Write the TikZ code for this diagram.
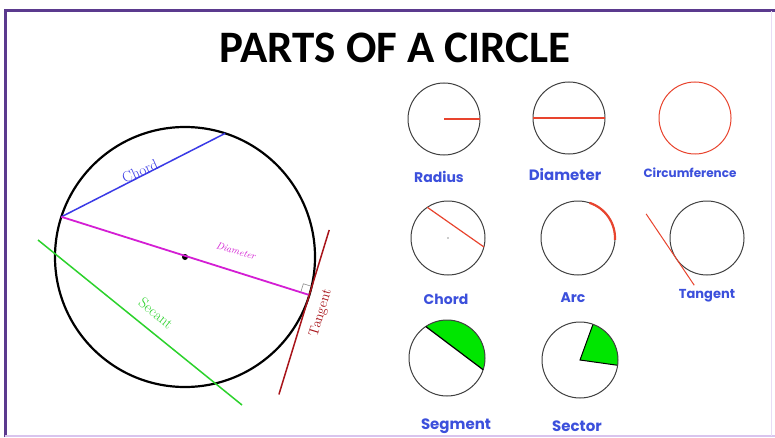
\documentclass[tikz,border=0pt]{standalone}
\usepackage{fontspec}
\usepackage{tikz}
\usetikzlibrary{calc}
\newfontfamily\titlefont{Carlito}
\newfontfamily\lblfont{Poppins}
\definecolor{frame}{HTML}{5B3A8E}
\definecolor{framelt}{HTML}{D9C4EE}
\definecolor{lblblue}{HTML}{3C50DC}
\definecolor{chordc}{HTML}{3A3AE6}
\definecolor{diamc}{HTML}{D41ED4}
\definecolor{secc}{HTML}{2CD22C}
\definecolor{tanc}{HTML}{A8141A}
\definecolor{partred}{HTML}{E8442E}
\definecolor{segfill}{HTML}{00E600}

\begin{document}
\begin{tikzpicture}[x=1pt,y=1pt,
  bigc/.style={draw=black,line width=2.2pt},
  smallc/.style={draw=black!75,line width=1pt},
  part/.style={draw=partred,line width=1.2pt},
  lbl/.style={font=\lblfont\fontsize{14}{14}\selectfont\bfseries,text=lblblue,inner sep=0pt},
  tag/.style={inner sep=0pt}]
  \useasboundingbox (0,0) rectangle (775,437);
  \fill[white] (0,0) rectangle (775,437);
  % frame
  \draw[frame,line width=3pt] (5,0) -- (5,426) -- (775,426);
  \draw[framelt,line width=1.5pt] (5,1) -- (775,1);
  \draw[framelt!60,line width=0.8pt] (771,1) -- (771,426);
  \node[font=\titlefont\fontsize{45}{45}\selectfont\bfseries] (title) at (395,389) {PARTS OF A CIRCLE};

  % big circle
  \coordinate (C) at (185,180);
  \draw[bigc] (C) circle[radius=130];
  \fill (C) circle[radius=3];
  \coordinate (dA) at ($(C)+(162:130)$);
  \coordinate (dB) at ($(C)+(-17:130)$);
  \coordinate (cB) at ($(C)+(72:130)$);
  \draw[chordc,line width=1.5pt] (dA) -- (cB);
  \node[tag,text=chordc,rotate=24,font=\fontsize{15}{15}\selectfont] (clab) at (140,266) {Chord};
  \draw[diamc,line width=1.8pt] (dA) -- (dB);
  \node[tag,text=diamc,rotate=-17,font=\itshape\fontsize{10}{10}\selectfont] (dlab) at (236,186) {Diameter};
  % right angle mark
  \draw[black!45,line width=0.6pt] ($(dB)+(163:9)$) -- ($(dB)+(163:9)+(73:9)$) -- ($(dB)+(73:9)$);
  \draw[tanc,line width=1.5pt] ($(dB)+(73:68)$) -- ($(dB)+(-107:104)$);
  \node[tag,text=tanc,rotate=73,font=\fontsize{14}{14}\selectfont] (tlab) at (321,124) {Tangent};
  \coordinate (sA) at (38,197);
  \coordinate (sB) at (242,32);
  \draw[secc,line width=1.5pt] (sA) -- (sB);
  \node[tag,text=secc,rotate=-39,font=\fontsize{15}{15}\selectfont] (slab) at (156,124) {Secant};

  % small circles, row 1
  \coordinate (r1) at (444,318);
  \coordinate (r2) at (569,319);
  \coordinate (r3) at (695,319);
  \draw[smallc] (r1) circle[radius=36];
  \draw[part] (r1) -- ++(0:36);
  \draw[smallc] (r2) circle[radius=36];
  \draw[part] ($(r2)+(180:36)$) -- ($(r2)+(0:36)$);
  \draw[part,line width=1pt] (r3) circle[radius=36];
  \node[lbl] (lrad) at (439,260) {Radius};
  \node[lbl,font=\lblfont\fontsize{15}{15}\selectfont\bfseries] (ldia) at (565,262) {Diameter};
  \node[lbl,font=\lblfont\fontsize{12}{12}\selectfont\bfseries] (lcir) at (690,264) {Circumference};

  % row 2
  \coordinate (q1) at (448,199);
  \coordinate (q2) at (578,199);
  \coordinate (q3) at (707,199);
  \draw[smallc] (q1) circle[radius=37];
  \fill[black!40] (q1) circle[radius=0.8];
  \draw[part] ($(q1)+(124:37)$) -- ($(q1)+(-14:37)$);
  \draw[smallc] (q2) circle[radius=37];
  \draw[part,line width=2.2pt] ($(q2)+(-3:37)$) arc[start angle=-3,end angle=72,radius=37];
  \draw[smallc] (q3) circle[radius=37];
  \coordinate (qt) at ($(q3)+(214:37)$);
  \draw[part,line width=1pt] ($(qt)+(124:54)$) -- ($(qt)+(-56:32)$);
  \node[lbl] (lcho) at (446,138) {Chord};
  \node[lbl] (larc) at (573,139) {Arc};
  \node[lbl,font=\lblfont\fontsize{13}{13}\selectfont\bfseries] (ltan) at (707,141) {Tangent};

  % row 3
  \coordinate (p1) at (447,79);
  \coordinate (p2) at (580,77);
  \fill[segfill] ($(p1)+(-18:38)$) arc[start angle=-18,end angle=124,radius=38] -- cycle;
  \draw[smallc] (p1) circle[radius=38];
  \draw[black,line width=1.2pt] ($(p1)+(124:38)$) -- ($(p1)+(-18:38)$);
  \fill[segfill] (p2) -- ($(p2)+(-8:38)$) arc[start angle=-8,end angle=70,radius=38] -- cycle;
  \draw[black,line width=1pt] ($(p2)+(-8:38)$) -- (p2) -- ($(p2)+(70:38)$);
  \draw[smallc] (p2) circle[radius=38];
  \node[lbl,font=\lblfont\fontsize{15}{15}\selectfont\bfseries] (lseg) at (456,11) {Segment};
  \node[lbl,font=\lblfont\fontsize{15}{15}\selectfont\bfseries] (lsec) at (577,11) {Sector};
\end{tikzpicture}
\end{document}
